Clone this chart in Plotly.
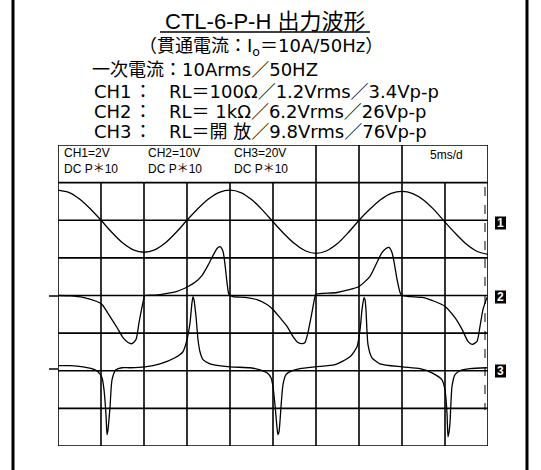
import plotly.graph_objects as go

# ---------------- data ----------------
# time axis: 5 ms / division, 10 divisions
ch1_t = [0, 1.25, 2.5, 3.75, 5, 6.25, 7.5, 8.75, 10, 11.25, 12.5, 13.75, 15, 16.25, 17.5, 18.75,
         20, 21.25, 22.5, 23.75, 25, 26.25, 27.5, 28.75, 30, 31.25, 32.5, 33.75, 35, 36.25, 37.5,
         38.75, 40, 41.25, 42.5, 43.75, 45, 46.25, 47.5, 48.75, 50]
ch1_v = [1.60, 1.48, 1.13, 0.61, 0.00, -0.64, -1.20, -1.57, -1.70, -1.57, -1.20, -0.64, 0.00, 0.61,
         1.13, 1.48, 1.60, 1.47, 1.10, 0.55, -0.08, -0.70, -1.24, -1.62, -1.76, -1.62, -1.24, -0.66,
         0.00, 0.58, 1.09, 1.43, 1.54, 1.42, 1.08, 0.55, -0.10, -0.72, -1.28, -1.66, -1.81]

ch2_t = [0, 1.40, 2.91, 4.53, 5.12, 6.05, 6.86, 7.56, 8.14, 8.60, 9.07, 9.42, 9.88, 10.12,
         11.28, 12.56, 13.84, 15.12, 15.93, 16.74, 17.44, 18.02, 18.49, 18.84, 19.19, 19.42, 19.65,
         19.88, 20.35, 21.74, 23.14, 24.30, 25.00, 25.81, 26.63, 27.33, 27.91, 28.37, 28.72, 29.07,
         29.53, 29.88, 30.00, 32.44, 35.00, 36.28, 36.86, 37.67, 38.14, 38.49, 38.84, 39.07, 39.42,
         39.77, 40.00, 40.93, 42.33, 43.84, 45.00, 46.16, 46.98, 47.67, 48.14, 48.72, 49.07, 49.42,
         49.88]
ch2_v = [0, -0.1, -0.5, -1.6, -2.4, -5.6, -8.5, -11.2, -12.5, -12.8, -11.7, -7.2, -1.9, 0,
         0.1, 0.5, 1.1, 2.4, 3.5, 5.3, 8.0, 10.6, 12.5, 13.0, 11.7, 8.2, 3.5,
         0.3, -0.3, -0.5, -1.1, -2.4, -3.7, -5.9, -8.2, -10.9, -12.5, -12.8, -12.5, -9.8,
         -4.5, -0.3, 0.3, 0.8, 2.4, 5.1, 7.7, 11.4, 12.5, 12.8, 11.4, 9.0, 4.3,
         0.8, 0.0, -0.3, -0.5, -1.6, -2.9, -5.9, -9.0, -12.2, -13.0, -12.2, -8.2, -3.7,
         -0.5]

ch3_t = [0, 1.40, 2.91, 3.95, 4.65, 5.12, 5.35, 5.58, 5.70, 5.81, 6.05, 6.28, 6.74, 7.44, 8.37,
         10.12, 11.86, 13.60, 14.53, 15.00, 15.35, 15.58, 15.70, 15.81, 16.05, 16.28, 16.51, 16.86,
         17.67, 20.00, 22.33, 23.49, 24.30, 24.77, 25.00, 25.23, 25.47, 25.58, 25.70, 25.93, 26.16,
         26.51, 26.98, 28.14, 29.88, 32.21, 33.95, 34.77, 35.12, 35.35, 35.58, 35.70, 35.81, 36.05,
         36.51, 37.44, 40.00, 42.09, 43.49, 44.65, 45.00, 45.23, 45.35, 45.47, 45.58, 45.81, 46.16,
         46.74, 47.91, 49.88]
ch3_v = [2.7, 2.7, 2.1, 1.1, -0.5, -3.7, -10.1, -23.4, -34.0, -31.4, -19.2, -4.8, 0.5, 1.6, 1.6,
         2.1, 3.7, 6.9, 10.1, 16.5, 25.5, 36.2, 39.4, 37.8, 28.7, 16.5, 10.1, 5.9,
         3.7, 2.1, 1.6, 0.5, -1.1, -3.7, -8.5, -18.1, -30.3, -34.0, -32.5, -19.2, -7.4,
         -2.1, -0.5, 1.1, 2.1, 3.2, 7.4, 12.8, 21.8, 32.5, 38.8, 37.8, 32.5, 13.8,
         6.9, 3.7, 2.1, 1.1, -1.1, -4.8, -10.1, -22.3, -35.1, -32.5, -27.7, -8.5, -2.1,
         0.0, 1.1, 1.6]

channels = ["CH1", "CH2", "CH3"]
volts_per_div = [2, 10, 20]          # CH1=2V, CH2=10V, CH3=20V
zero_div = [6, 4, 2]                 # trace zero positions (markers 1, 2, 3)
ms_per_div = 5
n_xdiv, n_ydiv = 10, 8

title = "CTL-6-P-H 出力波形"
subtitle = "（貫通電流：I<sub>o</sub>＝10A/50Hz）"
primary = "一次電流：10Arms／50HZ"
ch_specs = ["RL＝100Ω／1.2Vrms／3.4Vp-p", "RL＝ 1kΩ／6.2Vrms／26Vp-p", "RL＝開 放／9.8Vrms／76Vp-p"]
hdr_top = ["CH1=2V", "CH2=10V", "CH3=20V"]
hdr_bot = ["DC P＊10", "DC P＊10", "DC P＊10"]
timebase = "5ms/d"

# ---------------- layout geometry ----------------
W, H = 541, 470
GX0, GX1, GY0, GY1 = 58, 488, 145, 446   # grid box in pixels


def px(x):
    return x / W


def py(y):
    return 1 - y / H


fig = go.Figure()
for i, (t, v) in enumerate([(ch1_t, ch1_v), (ch2_t, ch2_v), (ch3_t, ch3_v)]):
    fig.add_trace(go.Scatter(
        x=t, y=[zero_div[i] + val / volts_per_div[i] for val in v],
        mode="lines", line=dict(color="black", width=1.3, shape="spline", smoothing=0.6),
        name=channels[i], showlegend=False, hoverinfo="skip"))

shapes = []
xmax = n_xdiv * ms_per_div
lw = 1.6
# horizontal grid lines
for j in range(n_ydiv + 1):
    shapes.append(dict(type="line", xref="x", yref="y", x0=0, x1=xmax, y0=j, y1=j,
                       line=dict(color="black", width=lw)))
# vertical grid lines (header row only partially divided)
for k in range(n_xdiv + 1):
    top = n_ydiv if k in (0, 6, 7, 8, 10) else n_ydiv - 1
    shapes.append(dict(type="line", xref="x", yref="y", x0=k * ms_per_div, x1=k * ms_per_div,
                       y0=0, y1=top, line=dict(color="black", width=lw)))
# retrace dashed line near right edge
shapes.append(dict(type="line", xref="paper", yref="paper", x0=px(485), x1=px(485), y0=py(187), y1=py(410),
                   line=dict(color="black", width=1, dash="dash")))
# zero reference ticks on the left
for yy in (296, 369):
    shapes.append(dict(type="line", xref="paper", yref="paper", x0=px(49), x1=px(GX0), y0=py(yy), y1=py(yy),
                       line=dict(color="black", width=1.5)))
# page frame (left/right) as filled bars
for xx in (13, 527):
    shapes.append(dict(type="rect", xref="paper", yref="paper", x0=px(xx - 1.5), x1=px(xx + 1.5),
                       y0=0, y1=1, fillcolor="black", line=dict(width=0)))
# title underline
shapes.append(dict(type="line", xref="paper", yref="paper", x0=px(160), x1=px(370), y0=py(32), y1=py(32),
                   line=dict(color="black", width=1.5)))
# channel marker boxes
for yy in (223, 297, 371):
    shapes.append(dict(type="rect", xref="paper", yref="paper", x0=px(495), x1=px(506),
                       y0=py(yy + 6.5), y1=py(yy - 6.5), fillcolor="black", line=dict(width=0)))

ann = []
JP = "DejaVu Sans, Noto Sans CJK JP"
LS = "Liberation Sans, Arial, Noto Sans CJK JP"


def text(x, y, s, size, family=JP, xanchor="left", color="black"):
    ann.append(dict(x=px(x), y=py(y), xref="paper", yref="paper", text=s, showarrow=False,
                    xanchor=xanchor, yanchor="middle", align="left",
                    font=dict(family=family, size=size, color=color)))


text(265, 21, title, 22, family=LS, xanchor="center")
text(261, 47, subtitle, 18, xanchor="center")
text(90, 69, primary, 18)
for i, yy in enumerate((91, 111, 131)):
    text(92, yy, channels[i], 18)
    text(143, yy, "：", 18, xanchor="center")
    text(167, yy, ch_specs[i], 18)
for i, xx in enumerate((62, 146, 232)):
    text(xx, 161, hdr_top[i] + "<br>" + hdr_bot[i], 12, family=LS)
text(428, 155, timebase, 12, family=LS)

# channel marker digits
for i, yy in enumerate((223, 297, 371)):
    text(500.5, yy, "<b>%d</b>" % (i + 1), 12, family=LS, xanchor="center", color="white")

fig.update_layout(
    width=W, height=H, margin=dict(l=0, r=0, t=0, b=0),
    paper_bgcolor="white", plot_bgcolor="white",
    xaxis=dict(domain=[px(GX0), px(GX1)], range=[0, xmax], visible=False, fixedrange=True),
    yaxis=dict(domain=[py(GY1), py(GY0)], range=[0, n_ydiv], visible=False, fixedrange=True),
    shapes=shapes, annotations=ann, showlegend=False,
)
fig.write_html("out.html", config={"displayModeBar": False},
               post_script="document.documentElement.style.overflow='hidden';"
                           "document.body.style.margin='0';document.body.style.overflow='hidden';")
